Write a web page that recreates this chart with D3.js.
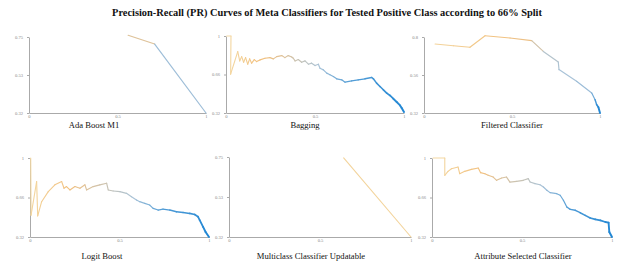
<!DOCTYPE html>
<html>
<head>
<meta charset="utf-8">
<script src="https://cdn.jsdelivr.net/npm/d3@7"></script>
<style>
  body { margin: 0; background: #fff; }
  text { font-family: "Liberation Serif", "DejaVu Serif", serif; }
</style>
</head>
<body>
<script>
// Tamanho da figura
const width = 617;
const height = 261;

const chartTitle = "Precision-Recall (PR) Curves of Meta Classifiers for Tested Positive Class according to 66% Split";

// Nomes dos classificadores
const panelNames = ["Ada Boost M1", "Bagging", "Filtered Classifier",
                    "Logit Boost", "Multiclass Classifier Updatable", "Attribute Selected Classifier"];

// Rótulos dos eixos
const xTickValues = [0, 0.5, 1];
const xTickLabels = ["0", "0.5", "1"];
const yTickLabels = [
  ["0.32", "0.53", "0.75"],
  ["0.32", "0.66", "1"],
  ["0.32", "0.56", "0.8"],
  ["0.32", "0.66", "1"],
  ["0.32", "0.53", "0.75"],
  ["0.32", "0.66", "1"]
];

// Curvas (recall, precision)
const adaRecall    = [0.56, 0.71, 1.0];
const adaPrecision = [0.76, 0.71, 0.32];
const adaThreshold = [0.85, 0.45, 0.35];

const baggingRecall = [0.004, 0.028, 0.026, 0.066, 0.077, 0.088, 0.099, 0.110, 0.122, 0.133,
  0.144, 0.159, 0.172, 0.191, 0.219, 0.247, 0.266, 0.285, 0.313, 0.331,
  0.350, 0.369, 0.378, 0.388, 0.406, 0.425, 0.444, 0.463, 0.481, 0.500,
  0.519, 0.528, 0.547, 0.566, 0.584, 0.603, 0.622, 0.650, 0.669, 0.706,
  0.743, 0.781, 0.818, 0.828, 0.846, 0.865, 0.884, 0.903, 0.921, 0.940,
  0.959, 0.978, 0.987, 1.0];
const baggingPrecision = [1.0, 1.0, 0.663, 0.862, 0.780, 0.818, 0.768, 0.809, 0.751, 0.798,
  0.760, 0.792, 0.774, 0.789, 0.804, 0.809, 0.798, 0.818, 0.827, 0.809,
  0.827, 0.815, 0.804, 0.780, 0.792, 0.768, 0.780, 0.751, 0.760, 0.739,
  0.751, 0.716, 0.701, 0.672, 0.657, 0.642, 0.622, 0.613, 0.592, 0.604,
  0.613, 0.622, 0.634, 0.622, 0.584, 0.554, 0.525, 0.496, 0.475, 0.446,
  0.417, 0.387, 0.364, 0.329];

const filteredRecall    = [0.063, 0.167, 0.261, 0.347, 0.489, 0.612, 0.678, 0.763, 0.767, 0.867,
  0.953, 0.972, 0.981, 0.991, 1.0];
const filteredPrecision = [0.756, 0.745, 0.735, 0.808, 0.794, 0.777, 0.709, 0.642, 0.594, 0.520,
  0.446, 0.404, 0.373, 0.356, 0.32];
const filteredThreshold = [0.95, 0.9, 0.85, 0.8, 0.75, 0.7, 0.48, 0.45, 0.43, 0.41,
  0.38, 0.25, 0.15, 0.05, 0.0];

const logitRecall = [0.004, 0.006, 0.037, 0.043, 0.065, 0.102, 0.139, 0.177, 0.190, 0.204,
  0.223, 0.251, 0.279, 0.307, 0.316, 0.353, 0.390, 0.428, 0.437, 0.465,
  0.502, 0.539, 0.567, 0.595, 0.613, 0.641, 0.669, 0.688, 0.716, 0.743,
  0.781, 0.818, 0.855, 0.892, 0.920, 0.939, 0.948, 0.967, 0.981, 1.0];
const logitPrecision = [1.0, 0.508, 0.797, 0.502, 0.624, 0.711, 0.769, 0.797, 0.740, 0.754,
  0.725, 0.754, 0.740, 0.769, 0.725, 0.754, 0.769, 0.783, 0.725, 0.716,
  0.711, 0.696, 0.667, 0.638, 0.624, 0.609, 0.595, 0.566, 0.552, 0.560,
  0.552, 0.537, 0.531, 0.523, 0.514, 0.494, 0.465, 0.407, 0.363, 0.32];

const multiclassRecall    = [0.63, 1.0];
const multiclassPrecision = [0.745, 0.32];
const multiclassThreshold = [1.0, 0.9];

const attributeRecall = [0.006, 0.071, 0.071, 0.089, 0.108, 0.145, 0.154, 0.182, 0.219, 0.257,
  0.270, 0.294, 0.312, 0.340, 0.359, 0.387, 0.414, 0.433, 0.470, 0.507,
  0.535, 0.545, 0.572, 0.600, 0.619, 0.638, 0.656, 0.693, 0.712, 0.730,
  0.749, 0.768, 0.796, 0.823, 0.851, 0.879, 0.907, 0.935, 0.963, 0.981,
  0.985, 1.0];
const attributePrecision = [1.0, 1.0, 0.851, 0.885, 0.908, 0.922, 0.865, 0.885, 0.902, 0.914,
  0.874, 0.865, 0.851, 0.836, 0.808, 0.828, 0.836, 0.793, 0.799, 0.808,
  0.822, 0.793, 0.779, 0.770, 0.750, 0.722, 0.702, 0.693, 0.679, 0.636,
  0.578, 0.558, 0.550, 0.529, 0.506, 0.484, 0.472, 0.463, 0.449, 0.443,
  0.363, 0.32];

const yDomains = [[0.32, 0.75], [0.32, 1], [0.32, 0.8], [0.32, 1], [0.32, 0.75], [0.32, 1]];

// threshold pela ordem quando não há valor explícito
function byRank(n) {
  return d3.range(n).map(i => 1 - i / (n - 1));
}

const series = [
  { recall: adaRecall, precision: adaPrecision, threshold: adaThreshold },
  { recall: baggingRecall, precision: baggingPrecision, threshold: byRank(baggingRecall.length) },
  { recall: filteredRecall, precision: filteredPrecision, threshold: filteredThreshold },
  { recall: logitRecall, precision: logitPrecision, threshold: byRank(logitRecall.length) },
  { recall: multiclassRecall, precision: multiclassPrecision, threshold: multiclassThreshold },
  { recall: attributeRecall, precision: attributePrecision, threshold: byRank(attributeRecall.length) }
];

// Posição de cada painel na figura
const layout = [
  { x0: 29,  x1: 206, y0: 37,  y1: 113, tx: 94,  ty: 128 },
  { x0: 226, x1: 404, y0: 36,  y1: 113, tx: 305, ty: 128 },
  { x0: 424, x1: 600, y0: 37,  y1: 113, tx: 512, ty: 128 },
  { x0: 30,  x1: 209, y0: 158, y1: 237, tx: 102, ty: 259 },
  { x0: 229, x1: 411, y0: 157, y1: 237, tx: 311, ty: 259 },
  { x0: 432, x1: 612, y0: 158, y1: 237, tx: 523, ty: 259 }
];

const color = d3.scaleLinear()
  .domain([0, 0.25, 0.42, 0.55, 0.75, 1])
  .range(["#1f86d4", "#4e9bd6", "#a9c3d8", "#c9c3b4", "#f2c07e", "#f3d9a4"]);

const strokeW = d3.scaleLinear().domain([0, 0.3, 1]).range([2, 1.2, 1.1]);

const svg = d3.select("body").append("svg")
  .attr("width", width)
  .attr("height", height);

svg.append("text")
  .attr("x", 327)
  .attr("y", 16)
  .attr("text-anchor", "middle")
  .attr("font-size", 10.4)
  .attr("font-weight", "bold")
  .attr("fill", "#111")
  .text(chartTitle);

series.forEach((s, k) => {
  const L = layout[k];
  const x = d3.scaleLinear().domain([0, 1]).range([L.x0, L.x1]);
  const y = d3.scaleLinear().domain(yDomains[k]).range([L.y1, L.y0]);
  const g = svg.append("g");
  const lo = yDomains[k][0], hi = yDomains[k][1];

  const xAxis = g.append("g")
    .attr("transform", `translate(0,${L.y1})`)
    .call(d3.axisBottom(x).tickValues(xTickValues)
      .tickFormat((d, i) => xTickLabels[i]).tickSize(0).tickSizeOuter(0).tickPadding(1.5));

  const yAxis = g.append("g")
    .attr("transform", `translate(${L.x0},0)`)
    .call(d3.axisLeft(y).tickValues([lo, (lo + hi) / 2, hi])
      .tickFormat((d, i) => yTickLabels[k][i]).tickSize(2).tickSizeOuter(0).tickPadding(4));

  [xAxis, yAxis].forEach(a => {
    a.select(".domain").attr("stroke", "#aaa").attr("stroke-width", 1);
    a.selectAll(".tick line").attr("stroke", "#aaa");
    a.selectAll(".tick text").attr("font-size", 4.6).attr("fill", "#888")
      .attr("font-family", "Liberation Serif, serif");
  });

  const pts = s.recall.map((r, i) => ({ r: r, p: s.precision[i], t: s.threshold[i] }));

  g.selectAll("line.seg")
    .data(d3.pairs(pts))
    .enter()
    .append("line")
    .attr("class", "seg")
    .attr("x1", d => x(d[0].r))
    .attr("y1", d => y(d[0].p))
    .attr("x2", d => x(d[1].r))
    .attr("y2", d => y(d[1].p))
    .attr("stroke", d => color((d[0].t + d[1].t) / 2))
    .attr("stroke-width", d => strokeW((d[0].t + d[1].t) / 2))
    .attr("stroke-linecap", "round");

  svg.append("text")
    .attr("x", L.tx)
    .attr("y", L.ty)
    .attr("text-anchor", "middle")
    .attr("font-size", 8.6)
    .attr("fill", "#111")
    .text(panelNames[k]);
});
</script>
</body>
</html>
